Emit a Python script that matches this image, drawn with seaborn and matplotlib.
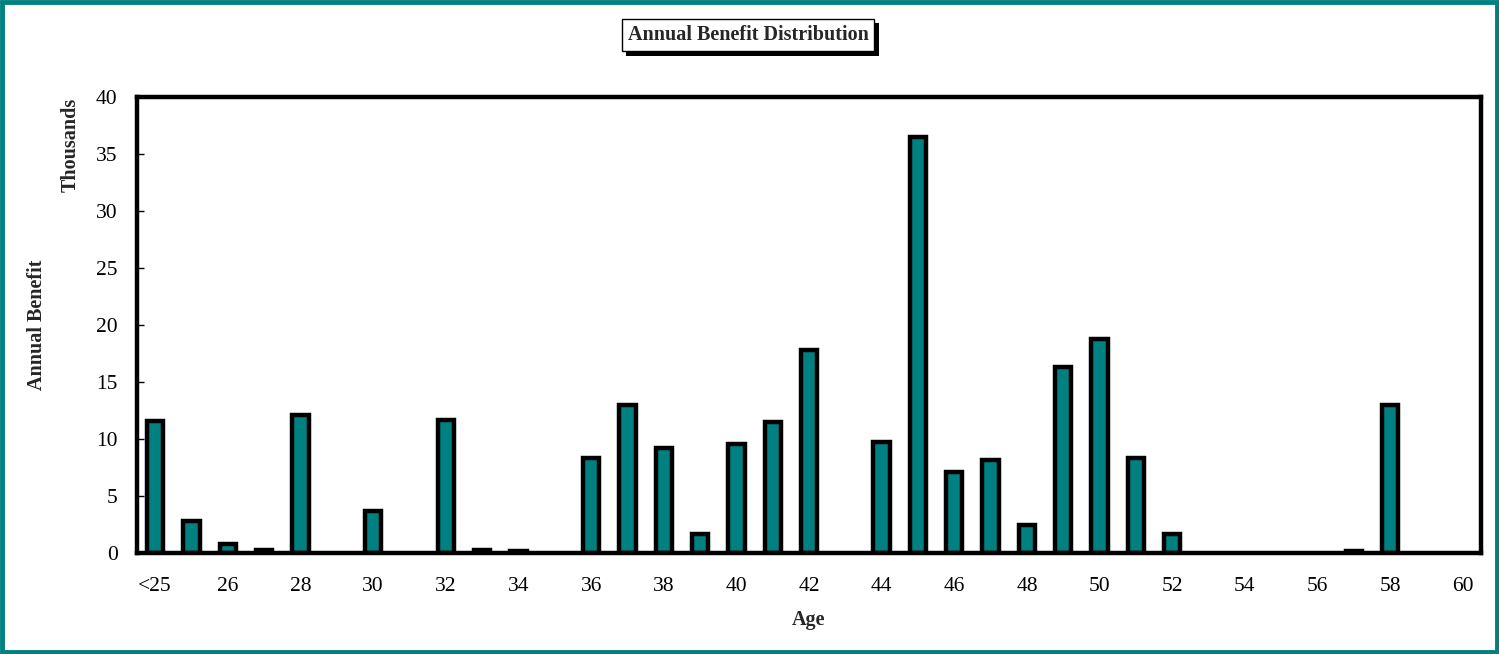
import matplotlib
matplotlib.use("Agg")
import matplotlib.pyplot as plt
from matplotlib.patches import Rectangle
import matplotlib.patheffects as pe
import seaborn as sns
import pandas as pd

ages = ["<25"] + [str(a) for a in range(25, 61)]
benefit = [11.6, 2.8, 0.8, 0.3, 12.1, 0.0, 3.7, 0.0, 11.7, 0.3,
           0.15, 0.0, 8.3, 13.0, 9.2, 1.7, 9.6, 11.5, 17.8, 0.0,
           9.7, 36.5, 7.1, 8.2, 2.5, 16.3, 18.8, 8.3, 1.7, 0.0,
           0.0, 0.0, 0.0, 0.2, 13.0, 0.0, 0.0]
tick_labels = [a if i % 2 == 0 else "" for i, a in enumerate(ages)]

df = pd.DataFrame({"age": ages, "benefit": benefit})

sns.set_theme(style="white")
plt.rcParams['font.family'] = ['Liberation Serif', 'DejaVu Serif']

teal = "#008080"
fig = plt.figure(figsize=(14.99, 6.54), dpi=100)
ax = fig.add_axes([0.0914, 0.1544, 0.8966, 0.6973])

# skip the zero bars so they leave no outline on the axis
df_plot = df[df["benefit"] > 0]
sns.barplot(data=df_plot, x="age", y="benefit", order=ages, color=teal,
            width=0.45, edgecolor="black", linewidth=3.2, saturation=1, ax=ax)

ax.set_ylim(0, 40)
ax.set_xlim(-0.5, len(ages) - 0.5)
ax.set_yticks(range(0, 41, 5))
ax.set_xticks(range(len(ages)))
ax.set_xticklabels(tick_labels)
ax.tick_params(axis="y", direction="in", length=5, width=1, left=True,
               labelsize=15.5, pad=14, colors="black")
ax.tick_params(axis="x", length=0, labelsize=15.5, pad=17, colors="black")
for s in ax.spines.values():
    s.set_visible(True)
    s.set_color("black")
    s.set_linewidth(3.2)

ax.set_xlabel("Age", fontsize=14.5, fontweight="bold", labelpad=10)
ax.set_ylabel("")
fig.text(0.0247, 0.503, "Annual Benefit", rotation=90, ha="center", va="center",
         fontsize=14.5, fontweight="bold")
fig.text(0.047, 0.778, "Thousands", rotation=90, ha="center", va="center",
         fontsize=14.5, fontweight="bold")

# title in a box with a drop shadow
title = fig.text(0.499, 0.947, "Annual Benefit Distribution", ha="center", va="center",
                 fontsize=14.5, fontweight="bold",
                 bbox=dict(boxstyle="square,pad=0.3", fc="white", ec="black", lw=1))
title.get_bbox_patch().set_path_effects([
    pe.SimplePatchShadow(offset=(3.5, -3.5), shadow_rgbFace="black", alpha=1),
    pe.Normal()])

# teal frame around the figure
fig.patches.append(Rectangle((0.0015, 0.003), 0.997, 0.994, transform=fig.transFigure,
                             fill=False, ec=teal, lw=3.5))

fig.savefig("out.png", dpi=100)
